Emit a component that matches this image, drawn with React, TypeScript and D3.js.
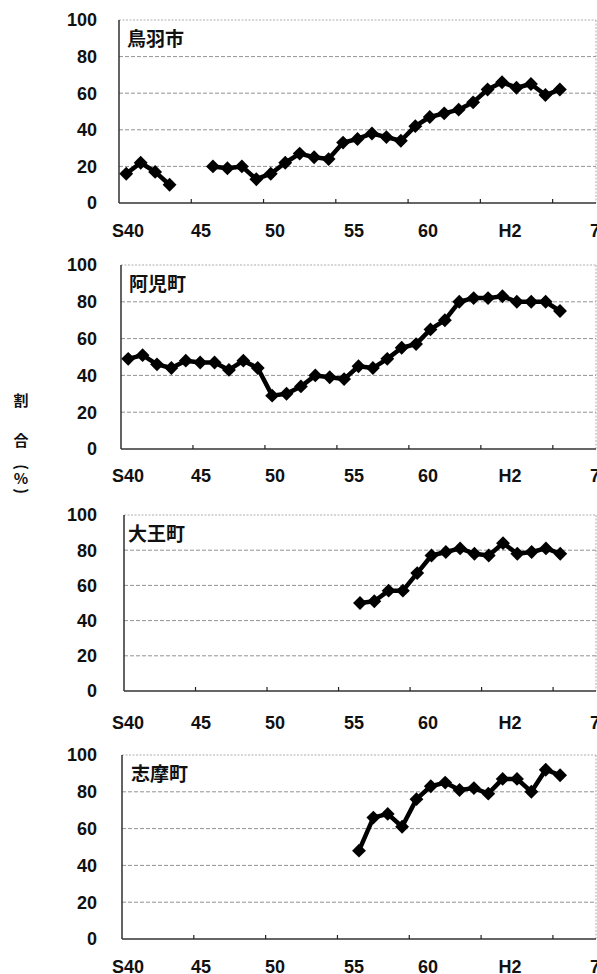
import React from "react";
import * as d3 from "d3";

// ---- data ----
const categories = [
  "S40","S41","S42","S43","S44","S45","S46","S47","S48","S49",
  "S50","S51","S52","S53","S54","S55","S56","S57","S58","S59",
  "S60","S61","S62","S63","H1","H2","H3","H4","H5","H6","H7","H8","H9",
];
const tickLabels = ["S40", "45", "50", "55", "60", "H2", "7"];
const tickIndex = [0, 5, 10, 15, 20, 25, 30];
const yTicks = [0, 20, 40, 60, 80, 100];
const towns = ["鳥羽市", "阿児町", "大王町", "志摩町"];

const toba: (number | null)[] = [
  16, 22, 17, 10, null, null, 20, 19, 20, 13, 16, 22, 27, 25, 24, 33,
  35, 38, 36, 34, 42, 47, 49, 51, 55, 62, 66, 63, 65, 59, 62,
];
const ago: (number | null)[] = [
  49, 51, 46, 44, 48, 47, 47, 43, 48, 44, 29, 30, 34, 40, 39, 38,
  45, 44, 49, 55, 57, 65, 70, 80, 82, 82, 83, 80, 80, 80, 75,
];
const daio: (number | null)[] = [
  null, null, null, null, null, null, null, null, null, null, null, null, null, null, null, null,
  50, 51, 57, 57, 67, 77, 79, 81, 78, 77, 84, 78, 79, 81, 78,
];
const shima: (number | null)[] = [
  null, null, null, null, null, null, null, null, null, null, null, null, null, null, null, null,
  48, 66, 68, 61, 76, 83, 85, 81, 82, 79, 87, 87, 80, 92, 89,
];
const series = [toba, ago, daio, shima];

// ---- layout ----
const W = 597;
const H = 974;
const RIGHT = 596;
const layout = [
  { left: 119, top: 20, bottom: 203, labelY: 237, titleX: 127 },
  { left: 121, top: 265, bottom: 449, labelY: 482, titleX: 129 },
  { left: 124, top: 515, bottom: 691, labelY: 729, titleX: 128 },
  { left: 122, top: 755, bottom: 939, labelY: 973, titleX: 131 },
];
const labelPos = [128, 201, 275, 354, 428, 510, 595];

const numFont = "'Liberation Sans', Arial, sans-serif";
const cjkFont = "'Noto Sans CJK JP', 'Noto Sans CJK SC', sans-serif";

function Panel({ idx }: { idx: number }) {
  const L = layout[idx];
  const values = series[idx];
  const x = d3
    .scaleBand<number>()
    .domain(d3.range(categories.length))
    .range([L.left, RIGHT])
    .paddingInner(0)
    .paddingOuter(0);
  const y = d3.scaleLinear().domain([0, 100]).range([L.bottom, L.top]);
  const cx = (i: number) => (x(i) as number) + x.bandwidth() / 2;
  const labelScale = d3.scaleLinear().domain(tickIndex).range(labelPos);

  const line = d3
    .line<number | null>()
    .defined((d) => d != null)
    .x((_, i) => cx(i))
    .y((d) => y(d as number));

  const diamond = d3.symbol().type(d3.symbolSquare).size(96)();

  return (
    <g>
      {/* grid */}
      {yTicks
        .filter((t) => t > 0)
        .map((t) => (
          <line
            key={t}
            x1={L.left}
            x2={RIGHT}
            y1={y(t)}
            y2={y(t)}
            stroke={t === 100 ? "#9a9a9a" : "#777"}
            strokeWidth={0.8}
            strokeDasharray={t === 100 ? "2,1.5" : "4,2"}
          />
        ))}
      {/* right border */}
      <line x1={RIGHT} x2={RIGHT} y1={L.top} y2={L.bottom} stroke="#9a9a9a" strokeWidth={0.8} strokeDasharray="2,1.5" />
      {/* axes */}
      <line x1={L.left} x2={L.left} y1={L.top} y2={L.bottom} stroke="#222" strokeWidth={1.4} />
      <line x1={L.left} x2={RIGHT} y1={L.bottom} y2={L.bottom} stroke="#333" strokeWidth={1.3} />
      {tickIndex.slice(1).map((ti) => (
        <line
          key={ti}
          x1={x(ti) as number}
          x2={x(ti) as number}
          y1={L.bottom}
          y2={L.bottom - 4}
          stroke="#222"
          strokeWidth={1.2}
        />
      ))}
      {/* y tick labels */}
      {yTicks.map((t) => (
        <text
          key={t}
          x={97}
          y={y(t)}
          dy="0.36em"
          textAnchor="end"
          fontFamily={numFont}
          fontWeight="bold"
          fontSize={18}
          fill="#111"
        >
          {t}
        </text>
      ))}
      {/* x tick labels */}
      {tickLabels.map((lab, k) => (
        <text
          key={lab}
          x={labelScale(tickIndex[k])}
          y={L.labelY}
          textAnchor="middle"
          fontFamily={numFont}
          fontWeight="bold"
          fontSize={18}
          fill="#111"
        >
          {lab}
        </text>
      ))}
      {/* title */}
      <text
        x={L.titleX}
        y={L.top + 26}
        fontFamily={cjkFont}
        fontWeight="bold"
        fontSize={19}
        fill="#111"
      >
        {towns[idx]}
      </text>
      {/* series line */}
      <path d={line(values) || ""} fill="none" stroke="#000" strokeWidth={4.5} strokeLinejoin="round" />
      {values.map((v, i) =>
        v == null ? null : (
          <path
            key={i}
            d={diamond || ""}
            transform={`translate(${cx(i)},${y(v)}) rotate(45)`}
            fill="#000"
          />
        )
      )}
    </g>
  );
}

export default function App() {
  return (
    <svg
      width={W}
      height={H}
      viewBox={`0 0 ${W} ${H}`}
      style={{ position: "absolute", left: 0, top: 0, background: "#fff" }}
    >
      <rect x={0} y={0} width={W} height={H} fill="#fff" />
      {layout.map((_, i) => (
        <Panel key={i} idx={i} />
      ))}
      {/* y axis title */}
      <g fontFamily={cjkFont} fontWeight="bold" fontSize={15} fill="#111" textAnchor="middle">
        <text x={21} y={401} dy="0.36em">割</text>
        <text x={21} y={441} dy="0.36em">合</text>
        <text x={0} y={0} dy="0.36em" transform="translate(21,467) rotate(90)">(</text>
        <text x={21} y={479} dy="0.36em">%</text>
        <text x={0} y={0} dy="0.36em" transform="translate(21,491) rotate(90)">)</text>
      </g>
    </svg>
  );
}
